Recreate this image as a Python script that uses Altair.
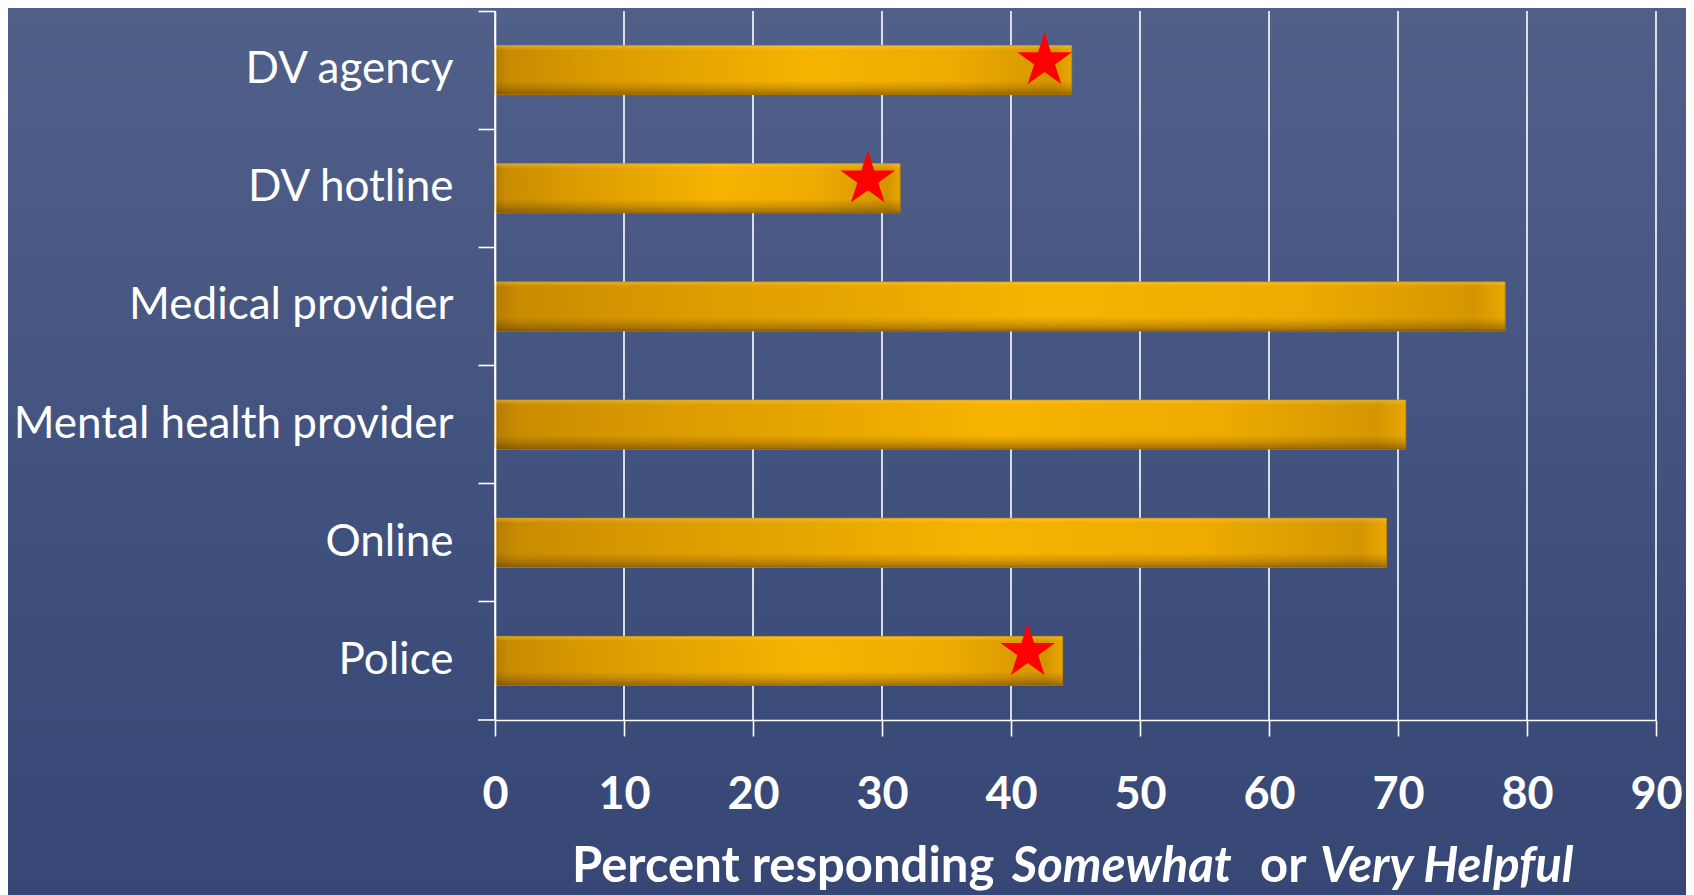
import altair as alt
import pandas as pd

# ---- data ----
categories = ["DV agency", "DV hotline", "Medical provider",
              "Mental health provider", "Online", "Police"]
values = [44.7, 31.4, 78.3, 70.6, 69.1, 44.0]
star_categories = ["DV agency", "DV hotline", "Police"]
star_values = [42.6, 28.9, 41.3]
tick_values = [0, 10, 20, 30, 40, 50, 60, 70, 80, 90]
title_parts = ["Percent responding", "Somewhat", "or", "Very Helpful"]
title_italic = [False, True, False, True]

# ---- layout ----
W, H = 1161, 709
PAD_L, PAD_T, PAD_R, PAD_B = 487, 3, 30, 175
FONT = "Lato"
title_x = [77, 517, 765, 825]
title_y = 871
STAR = ("M0,-1L0.2245,-0.309L0.951,-0.309L0.363,0.118L0.588,0.809L0,0.382"
        "L-0.588,0.809L-0.363,0.118L-0.951,-0.309L-0.2245,-0.309Z")

bars_df = pd.DataFrame({"category": categories, "value": values})
stars_df = pd.DataFrame({"category": star_categories, "value": star_values})
ticks_df = pd.DataFrame({"tick": tick_values})
one = pd.DataFrame({"k": [0]})

x_scale = alt.Scale(domain=[0, 90], nice=False, zero=True)
y_scale = alt.Scale(domain=categories, paddingInner=0, paddingOuter=0)

x_axis = alt.Axis(
    values=tick_values, grid=False, title=None, zindex=1,
    domainColor="white", domainWidth=1.6,
    tickColor="white", tickWidth=1.6, tickSize=16,
    labelColor="white", labelFont=FONT, labelFontSize=45,
    labelFontWeight="bold", labelBaseline="alphabetic", labelPadding=72,
    labelFlush=False, labelOverlap=False,
)
y_axis = alt.Axis(
    title=None, zindex=1, bandPosition=0,
    domainColor="white", domainWidth=1.6,
    tickColor="white", tickWidth=1.6, tickSize=17,
    labelColor="white", labelFont=FONT, labelFontSize=44,
    labelFontWeight="normal", labelPadding=25, labelLimit=600,
)

bg = alt.Chart(one).mark_rect(
    fill=alt.LinearGradient(
        gradient="linear",
        stops=[alt.GradientStop(color="#506089", offset=0),
               alt.GradientStop(color="#364675", offset=1)],
        x1=0, x2=0, y1=0, y2=1),
    clip=False,
).encode(
    x=alt.value(-PAD_L), x2=alt.value(W + PAD_R),
    y=alt.value(-PAD_T), y2=alt.value(H + PAD_B),
)

grid = alt.Chart(ticks_df).mark_rule(color="white", strokeWidth=1.6).encode(
    x=alt.X("tick:Q", scale=x_scale, axis=x_axis),
    y=alt.value(0), y2=alt.value(H),
)

base_bar = alt.Chart(bars_df).mark_bar(size=49, color="#e6a300").encode(
    x=alt.X("value:Q", scale=x_scale),
    y=alt.Y("category:N", scale=y_scale, axis=y_axis, sort=categories),
)

grad_bar = alt.Chart(bars_df).mark_bar(
    size=49,
    fill=alt.LinearGradient(
        gradient="linear",
        stops=[alt.GradientStop(color="#b57c00", offset=0),
               alt.GradientStop(color="#c98c00", offset=0.025),
               alt.GradientStop(color="#dc9c00", offset=0.2),
               alt.GradientStop(color="#f7b300", offset=0.55),
               alt.GradientStop(color="#eeaa00", offset=0.8),
               alt.GradientStop(color="#d49600", offset=0.97),
               alt.GradientStop(color="#e9a700", offset=1)],
        x1=0, x2=1, y1=0, y2=0),
    stroke="#c48900", strokeWidth=1,
).encode(
    x=alt.X("value:Q", scale=x_scale),
    y=alt.Y("category:N", scale=y_scale, sort=categories),
)

shade_bar = alt.Chart(bars_df).mark_bar(
    size=49,
    fill=alt.LinearGradient(
        gradient="linear",
        stops=[alt.GradientStop(color="rgba(255,220,110,0.35)", offset=0),
               alt.GradientStop(color="rgba(255,220,110,0)", offset=0.1),
               alt.GradientStop(color="rgba(60,35,0,0)", offset=0.72),
               alt.GradientStop(color="rgba(60,35,0,0.18)", offset=0.86),
               alt.GradientStop(color="rgba(60,35,0,0.45)", offset=1)],
        x1=0, x2=0, y1=0, y2=1),
).encode(
    x=alt.X("value:Q", scale=x_scale),
    y=alt.Y("category:N", scale=y_scale, sort=categories),
)

stars = alt.Chart(stars_df).mark_point(
    shape=STAR, filled=True, fill="#ff0000", strokeWidth=0, opacity=1,
    size=3300, yOffset=-9,
).encode(
    x=alt.X("value:Q", scale=x_scale),
    y=alt.Y("category:N", scale=y_scale, sort=categories),
)

corner = alt.Chart(one).mark_rule(color="white", strokeWidth=1.6).encode(
    x=alt.value(-17), x2=alt.value(0), y=alt.value(H),
)

title_layers = []
for txt, ital, tx in zip(title_parts, title_italic, title_x):
    title_layers.append(
        alt.Chart(pd.DataFrame({"t": [txt]})).mark_text(
            align="left", baseline="alphabetic", font=FONT, fontSize=49,
            fontWeight="bold", fontStyle="italic" if ital else "normal",
            color="white",
        ).encode(text="t:N", x=alt.value(tx), y=alt.value(title_y))
    )

chart = alt.layer(bg, grid, base_bar, grad_bar, shade_bar, stars, corner,
                  *title_layers).properties(
    width=W, height=H,
    autosize=alt.AutoSizeParams(type="none"),
    padding={"left": PAD_L, "top": PAD_T, "right": PAD_R, "bottom": PAD_B},
    background="#45557f",
).configure_view(stroke=None)

chart.save("out.html", embed_options={"renderer": "svg", "actions": False})
